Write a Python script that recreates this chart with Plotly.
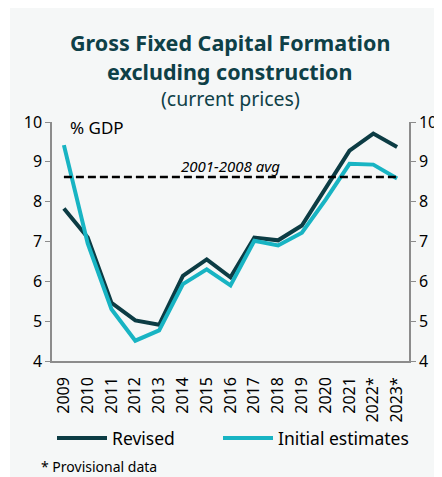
import plotly.graph_objects as go

years = ["2009", "2010", "2011", "2012", "2013", "2014", "2015", "2016",
         "2017", "2018", "2019", "2020", "2021", "2022*", "2023*"]
revised = [7.83, 7.1, 5.46, 5.02, 4.91, 6.14, 6.55, 6.1,
           7.1, 7.03, 7.4, 8.33, 9.28, 9.71, 9.37]
initial = [9.42, 6.95, 5.3, 4.51, 4.77, 5.93, 6.3, 5.9,
           7.02, 6.9, 7.22, 8.05, 8.95, 8.93, 8.58]
avg_2001_2008 = 8.62

DARK = "#0C3C44"
CYAN = "#18B4C3"
TITLE_CLR = "#0E4047"
BG = "#F5F7F7"
FONT = "Noto Sans"

# page body adds an 8px margin, so the figure is drawn that much smaller
OFF = 8
W, H = 442 - OFF, 477 - OFF
L, R, T, B = 52 - OFF, 33, 122 - OFF, 116
PW, PH = W - L - R, H - T - B


def px(x):  # screen pixel -> paper x
    return (x - OFF - L) / PW


def py(y):  # screen pixel -> paper y
    return (H - B - (y - OFF)) / PH


fig = go.Figure()

fig.add_trace(go.Scatter(
    x=years, y=revised, mode="lines", name="Revised",
    line=dict(color=DARK, width=4), legend="legend",
))
fig.add_trace(go.Scatter(
    x=years, y=initial, mode="lines", name="Initial estimates",
    line=dict(color=CYAN, width=4), legend="legend2",
))
# 2001-2008 average reference line
fig.add_trace(go.Scatter(
    x=[years[0], years[-1]], y=[avg_2001_2008, avg_2001_2008], mode="lines",
    line=dict(color="black", width=2.5, dash="8px,4px"),
    showlegend=False, hoverinfo="skip",
))
# invisible trace to carry the right axis
fig.add_trace(go.Scatter(
    x=years, y=revised, mode="lines", line=dict(width=0),
    showlegend=False, hoverinfo="skip", yaxis="y2",
))

# titles
fig.add_annotation(text="<b>Gross Fixed Capital Formation</b>", xref="paper", yref="paper",
                   x=px(230), y=py(42), showarrow=False, yanchor="middle",
                   font=dict(family=FONT, size=21.5, color=TITLE_CLR))
fig.add_annotation(text="<b>excluding construction</b>", xref="paper", yref="paper",
                   x=px(230), y=py(71), showarrow=False, yanchor="middle",
                   font=dict(family=FONT, size=21.5, color=TITLE_CLR))
fig.add_annotation(text="(current prices)", xref="paper", yref="paper",
                   x=px(230), y=py(99), showarrow=False, yanchor="middle",
                   font=dict(family=FONT, size=19.5, color=TITLE_CLR))

fig.add_annotation(text="<i>2001-2008 avg</i>", xref="paper", yref="paper",
                   x=px(230), y=py(166), showarrow=False, yanchor="middle",
                   font=dict(family=FONT, size=15, color="black"))
fig.add_annotation(text="% GDP", xref="paper", yref="paper", x=px(68), y=py(128),
                   xanchor="left", yanchor="middle", showarrow=False,
                   font=dict(family=FONT, size=17, color="black"))
fig.add_annotation(text="* Provisional data", xref="paper", yref="paper",
                   x=px(39), y=py(466), xanchor="left", yanchor="middle",
                   showarrow=False, font=dict(family=FONT, size=14, color="black"))

# light panel, white strip at top/left
fig.add_shape(type="rect", xref="paper", yref="paper", layer="below",
              x0=px(10), x1=px(450), y0=py(490), y1=py(6),
              fillcolor=BG, line_width=0)

yax = dict(range=[4, 10], dtick=1, showgrid=False, zeroline=False,
           showline=True, linecolor="#8C8C8C", linewidth=1.5,
           ticks="outside", ticklen=5, tickcolor="#8C8C8C",
           tickfont=dict(family=FONT, size=16, color="black"),
           automargin=False)

leg = dict(orientation="h", xref="container", yref="container",
           y=(H - (438 - OFF)) / H, xanchor="left", yanchor="middle",
           itemwidth=50, font=dict(family=FONT, size=17.5, color="black"),
           bgcolor="rgba(0,0,0,0)")

fig.update_layout(
    width=W, height=H,
    paper_bgcolor="white", plot_bgcolor=BG,
    margin=dict(l=L, r=R, t=T, b=B),
    xaxis=dict(type="category", range=[-0.5, 14.5], showgrid=False,
               showline=True, linecolor="#8C8C8C", linewidth=1.5,
               tickangle=-90, ticks="", automargin=False, ticklabelstandoff=8,
               tickfont=dict(family=FONT, size=16, color="black")),
    yaxis=yax,
    yaxis2=dict(yax, overlaying="y", side="right"),
    showlegend=True,
    legend=dict(leg, x=(52 - OFF) / W),
    legend2=dict(leg, x=(218 - OFF) / W),
)

fig.write_html("out.html")
